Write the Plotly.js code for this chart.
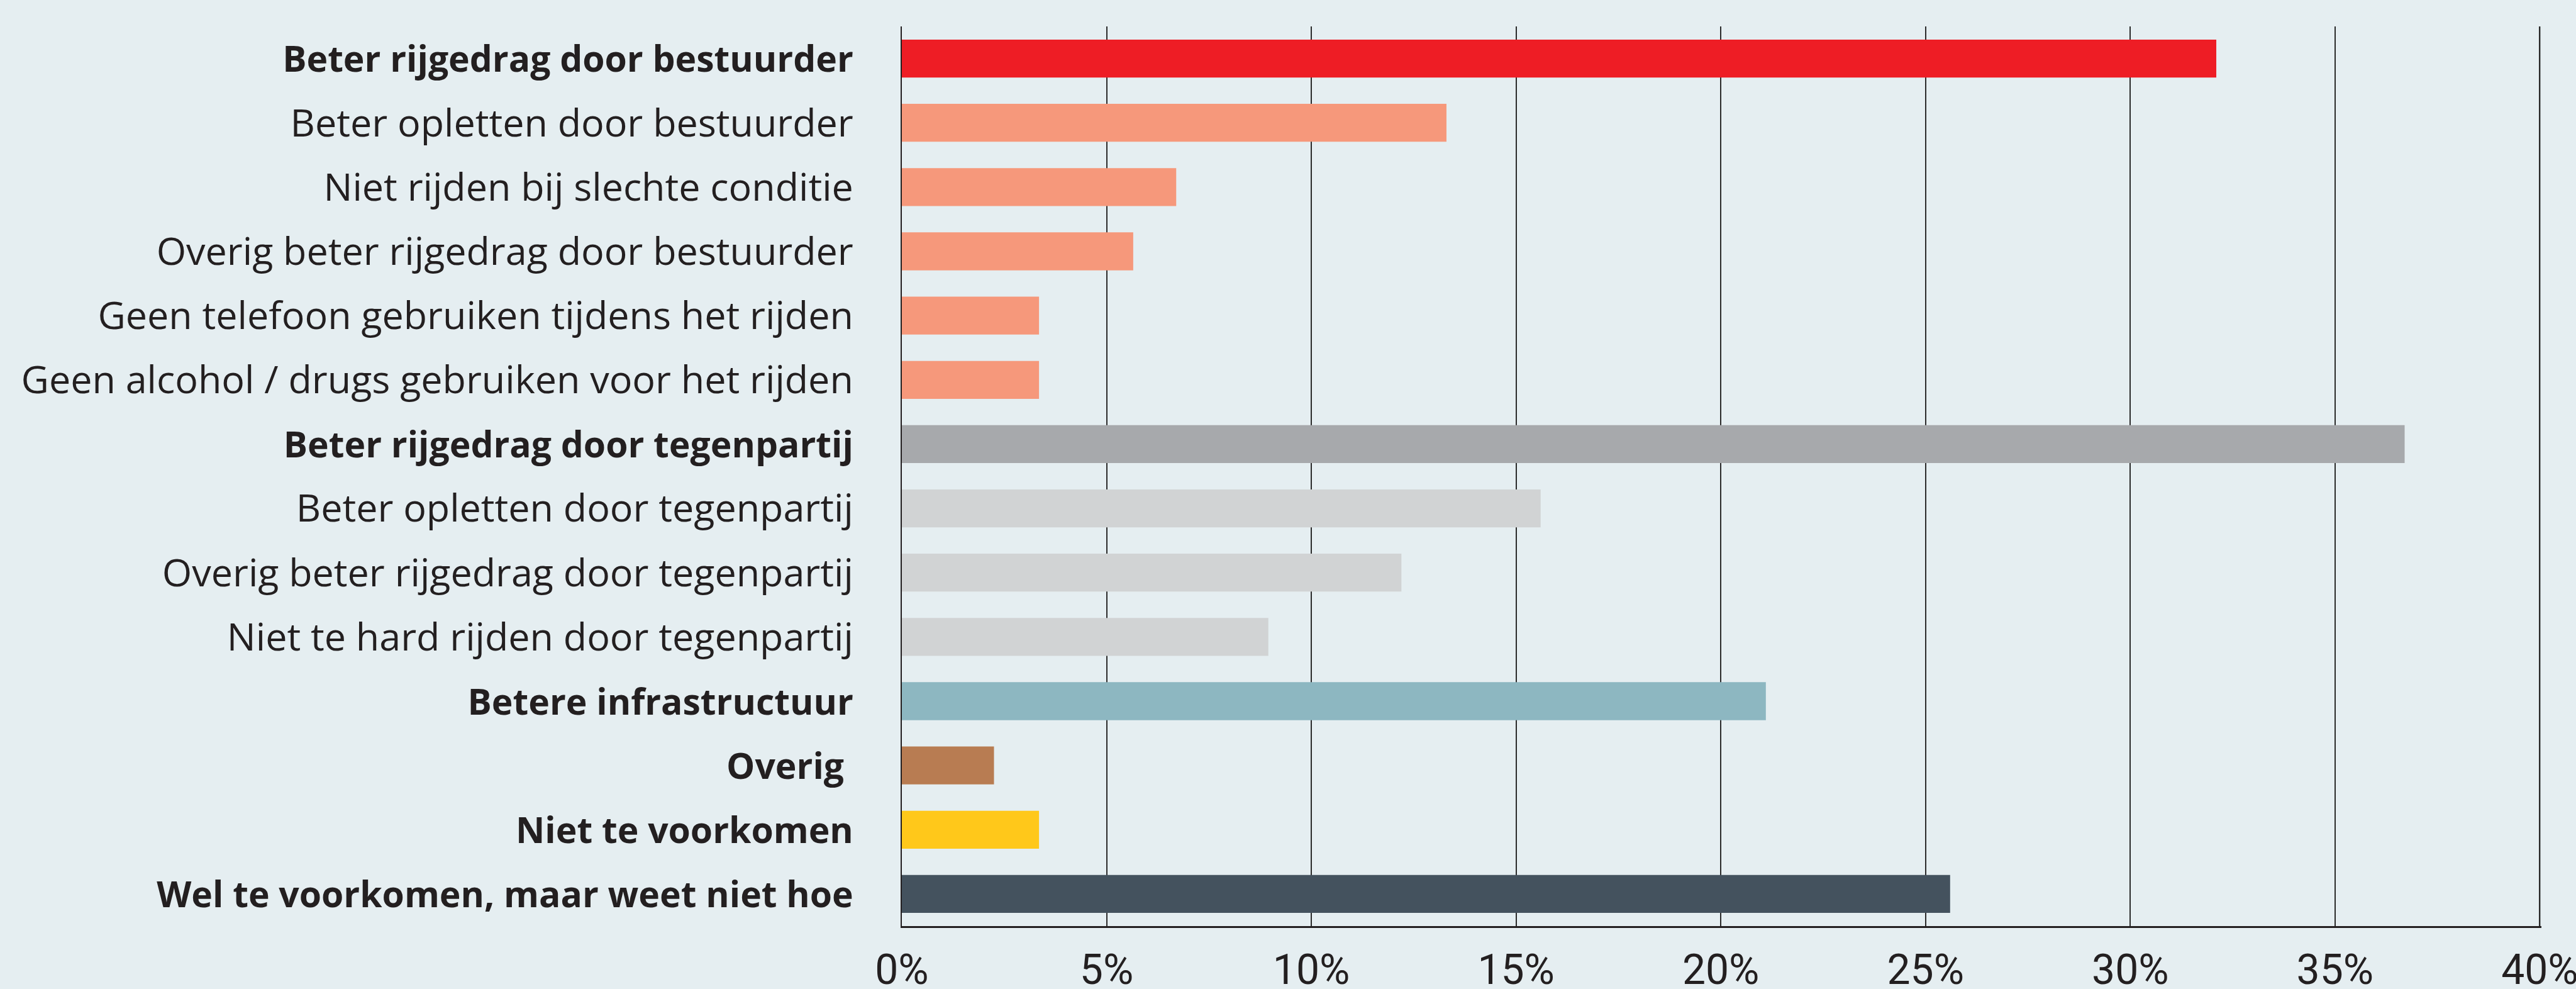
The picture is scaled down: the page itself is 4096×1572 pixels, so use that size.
<!DOCTYPE html>
<html>
<head>
<meta charset="utf-8">
<script src="https://cdn.plot.ly/plotly-3.0.1.min.js"></script>
<style>
html,body{margin:0;padding:0;background:#E5EEF1;}
#chart{width:4096px;height:1572px;}
</style>
</head>
<body>
<div id="chart"></div>
<script>
const categories = [
  "Beter rijgedrag door bestuurder",
  "Beter opletten door bestuurder",
  "Niet rijden bij slechte conditie",
  "Overig beter rijgedrag door bestuurder",
  "Geen telefoon gebruiken tijdens het rijden",
  "Geen alcohol / drugs gebruiken voor het rijden",
  "Beter rijgedrag door tegenpartij",
  "Beter opletten door tegenpartij",
  "Overig beter rijgedrag door tegenpartij",
  "Niet te hard rijden door tegenpartij",
  "Betere infrastructuur",
  "Overig",
  "Niet te voorkomen",
  "Wel te voorkomen, maar weet niet hoe"
];
const values = [32.1, 13.3, 6.7, 5.65, 3.35, 3.35, 36.7, 15.6, 12.2, 8.95, 21.1, 2.25, 3.35, 25.6];
const boldRows = [true, false, false, false, false, false, true, false, false, false, true, true, true, true];
const barColors = ["#EE1D25", "#F6987B", "#F6987B", "#F6987B", "#F6987B", "#F6987B",
  "#A7A9AC", "#D1D3D4", "#D1D3D4", "#D1D3D4", "#8DB7C1", "#B87C52", "#FFC81A", "#44525E"];
const xTickVals = [0, 5, 10, 15, 20, 25, 30, 35, 40];

const tickText = categories.map((c, i) => boldRows[i]
  ? '<span style="font-weight:bold;font-size:57px">' + c + (c === "Overig" ? "&nbsp;" : "") + "</span>"
  : c);

const trace = {
  type: "bar",
  orientation: "h",
  x: values,
  y: categories,
  marker: {color: barColors, line: {width: 0}},
  width: 0.59,
  hoverinfo: "skip"
};

const layout = {
  width: 4096,
  height: 1572,
  paper_bgcolor: "#E5EEF1",
  plot_bgcolor: "#E5EEF1",
  margin: {l: 1434, r: 55, t: 42, b: 100, pad: 0},
  showlegend: false,
  font: {family: "Open Sans, sans-serif", color: "#231F20"},
  shapes: [{
    type: "line", xref: "x", yref: "paper", x0: 40, x1: 40, y0: 0, y1: 1,
    line: {color: "#2B2B2B", width: 2}
  }],
  xaxis: {
    range: [0, 40.04],
    tickvals: xTickVals,
    ticktext: xTickVals.map(v => v + "%"),
    showgrid: true,
    gridcolor: "#2B2B2B",
    gridwidth: 2,
    zeroline: false,
    showline: true,
    linecolor: "#231F20",
    linewidth: 3,
    ticks: "",
    ticklabelstandoff: 10,
    ticklabeloverflow: "allow",
    tickfont: {size: 66, family: "Roboto, sans-serif", color: "#231F20"},
    fixedrange: true
  },
  yaxis: {
    type: "category",
    autorange: "reversed",
    tickmode: "array",
    tickvals: categories,
    ticktext: tickText,
    showgrid: false,
    zeroline: false,
    showline: true,
    linecolor: "#231F20",
    linewidth: 2,
    ticks: "",
    ticklabelstandoff: 63,
    tickfont: {size: 61, family: "Open Sans, sans-serif", color: "#231F20"},
    fixedrange: true
  }
};

Plotly.newPlot("chart", [trace], layout, {displayModeBar: false, staticPlot: true});
</script>
</body>
</html>
